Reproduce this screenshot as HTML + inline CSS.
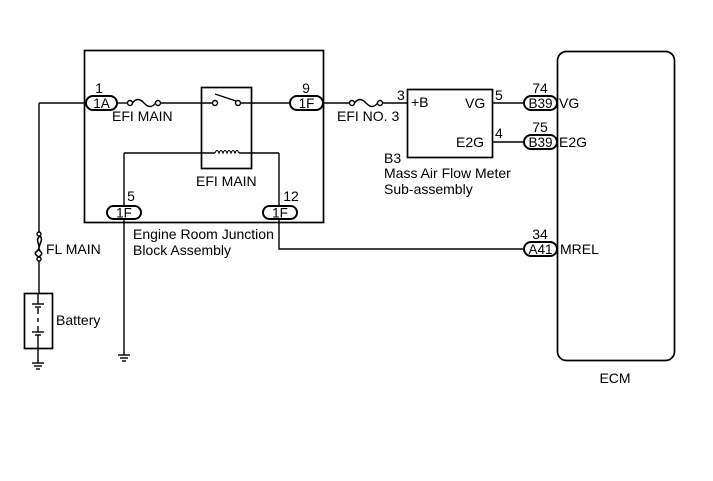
<!DOCTYPE html>
<html><head><meta charset="utf-8"><style>
html,body{margin:0;padding:0;background:#fff;}
svg{display:block;}
text{font-family:"Liberation Sans",Arial,sans-serif;font-size:14px;fill:#000;}
.c{font-size:13.5px;}
</style></head><body>
<svg width="713" height="481" viewBox="0 0 713 481" xmlns="http://www.w3.org/2000/svg">
<g fill="none" stroke="#000" stroke-width="1.4">
<rect x="84.5" y="50.5" width="239" height="172" stroke-width="1.7"/>
<rect x="201.5" y="87.5" width="50" height="81" stroke-width="1.7"/>
<line x1="39" y1="103" x2="86" y2="103"/>
<line x1="39" y1="103" x2="39" y2="232"/>
<line x1="117" y1="103" x2="128" y2="103"/>
<line x1="161" y1="103" x2="212" y2="103"/>
<line x1="241" y1="103" x2="290" y2="103"/>
<line x1="323" y1="103" x2="350" y2="103"/>
<line x1="383" y1="103" x2="407" y2="103"/>
<circle cx="130" cy="103" r="2.5" fill="#fff"/>
<circle cx="158" cy="103" r="2.5" fill="#fff"/>
<path d="M132.5 103 Q137.5 96 144 103 T155.5 103"/>
<circle cx="215" cy="103" r="2.5" fill="#fff"/>
<circle cx="238" cy="103" r="2.5" fill="#fff"/>
<line x1="215" y1="94" x2="236" y2="101"/>
<line x1="124" y1="153" x2="215" y2="153"/>
<line x1="239" y1="153" x2="279" y2="153"/>
<path d="M215 153 q2 -5 4 0 q2 -5 4 0 q2 -5 4 0 q2 -5 4 0 q2 -5 4 0 q2 -5 4 0" stroke-width="1.1"/>
<line x1="124" y1="153" x2="124" y2="206"/>
<line x1="279" y1="153" x2="279" y2="206"/>
<line x1="124" y1="219" x2="124" y2="355"/>
<path d="M279 219 V249 H524"/>
<circle cx="352" cy="103" r="2.5" fill="#fff"/>
<circle cx="380" cy="103" r="2.5" fill="#fff"/>
<path d="M354.5 103 Q359.5 96 366 103 T377.5 103"/>
<rect x="407.5" y="89.5" width="85" height="68" stroke-width="1.7"/>
<line x1="492" y1="103" x2="524" y2="103"/>
<line x1="492" y1="142" x2="524" y2="142"/>
<rect x="557.5" y="51.5" width="117" height="309" rx="9" stroke-width="1.7"/>
<circle cx="39" cy="234" r="2" fill="#fff"/>
<circle cx="39" cy="259" r="2" fill="#fff"/>
<path d="M40 236 C33 241 44 246 36 252 C34 254 37 256 39 257 M40 236 C45 241 35 247 41 252 C43 254 40 256 39 257" stroke-width="1.6"/>
<line x1="39" y1="261" x2="39" y2="293"/>
<rect x="24.5" y="293.5" width="28" height="55" stroke-width="1.7"/>
<line x1="38" y1="293" x2="38" y2="304"/>
<line x1="32" y1="304" x2="44" y2="304"/>
<line x1="35" y1="307" x2="41" y2="307"/>
<line x1="38" y1="308" x2="38" y2="314"/>
<line x1="38" y1="318" x2="38" y2="322"/>
<line x1="38" y1="326" x2="38" y2="332"/>
<line x1="32" y1="332" x2="44" y2="332"/>
<line x1="35" y1="335" x2="41" y2="335"/>
<line x1="38" y1="335" x2="38" y2="363"/>
<line x1="32" y1="363" x2="44" y2="363"/>
<line x1="34" y1="366" x2="42" y2="366"/>
<line x1="36" y1="369" x2="40" y2="369"/>
<line x1="118" y1="355" x2="130" y2="355"/>
<line x1="120" y1="358" x2="128" y2="358"/>
<line x1="122" y1="361" x2="126" y2="361"/>
</g>
<g fill="#fff" stroke="#000" stroke-width="2">
<rect x="86" y="96" width="31" height="14" rx="7"/>
<rect x="290" y="96" width="33" height="14" rx="7"/>
<rect x="107" y="206" width="34" height="13" rx="6.5"/>
<rect x="263" y="206" width="34" height="13" rx="6.5"/>
<rect x="524" y="96" width="33" height="14" rx="7"/>
<rect x="524" y="135" width="33" height="14" rx="7"/>
<rect x="524" y="242" width="33" height="14" rx="7"/>
</g>
<g text-anchor="middle">
<text class="c" x="101.5" y="108">1A</text>
<text class="c" x="306.5" y="108">1F</text>
<text class="c" x="124" y="217.5">1F</text>
<text class="c" x="280" y="217.5">1F</text>
<text class="c" x="540.5" y="108">B39</text>
<text class="c" x="540.5" y="147">B39</text>
<text class="c" x="540.5" y="254">A41</text>
<text x="99" y="93">1</text>
<text x="306" y="93">9</text>
<text x="131" y="201">5</text>
<text x="291" y="201">12</text>
<text x="540" y="93">74</text>
<text x="540" y="132">75</text>
<text x="540" y="239">34</text>
<text x="615" y="383">ECM</text>
</g>
<text x="112" y="121">EFI MAIN</text>
<text x="196" y="186">EFI MAIN</text>
<text x="133" y="239">Engine Room Junction</text>
<text x="133" y="255">Block Assembly</text>
<text x="46" y="254">FL MAIN</text>
<text x="56" y="325">Battery</text>
<text x="337" y="121">EFI NO. 3</text>
<text x="397" y="100">3</text>
<text x="411" y="107">+B</text>
<text x="465" y="108">VG</text>
<text x="495" y="100">5</text>
<text x="456" y="147">E2G</text>
<text x="495" y="138">4</text>
<text x="384" y="163">B3</text>
<text x="384" y="178">Mass Air Flow Meter</text>
<text x="384" y="194">Sub-assembly</text>
<text x="559" y="108">VG</text>
<text x="559" y="147">E2G</text>
<text x="560" y="254">MREL</text>
</svg>
</body></html>
